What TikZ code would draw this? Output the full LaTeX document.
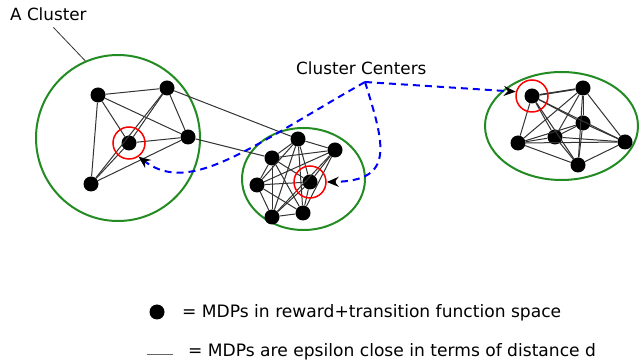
\documentclass[tikz,border=0pt]{standalone}
\usepackage{fontspec}
\setmainfont{DejaVu Sans}
\usetikzlibrary{arrows.meta, shapes.geometric}

\definecolor{clgreen}{RGB}{34,139,34}

\begin{document}
\begin{tikzpicture}[
    x=1pt, y=1pt,
    mdp/.style={circle, fill=black, inner sep=0pt, minimum size=15pt},
    link/.style={draw=black!80, line width=1pt},
    cluster/.style={ellipse, draw=clgreen, line width=2pt, inner sep=0pt},
    ring/.style={circle, draw=red, line width=1.5pt, inner sep=0pt, minimum size=32pt},
    lbl/.style={font=\fontsize{16.8}{20}\selectfont, inner sep=0pt},
    keylbl/.style={font=\fontsize{17.1}{20}\selectfont, inner sep=0pt},
    hop/.style={draw=blue, line width=2pt, dash pattern=on 7pt off 5pt, -{Stealth[length=12pt, width=10pt, inset=4pt, color=black]}},
]
\useasboundingbox (0,0) rectangle (639,361);

% Clusters
\node[cluster, minimum width=164pt, minimum height=166pt] (clL) at (118,223) {};
\node[cluster, minimum width=123pt, minimum height=102pt] (clM) at (303.5,182) {};
\node[cluster, minimum width=153pt, minimum height=108pt] (clR) at (561.5,235) {};

% Left cluster
\node[mdp] (a1) at (98,266) {};
\node[mdp] (a2) at (167,273) {};
\node[mdp] (a3) at (188,224) {};
\node[mdp] (a4) at (129,218) {};
\node[mdp] (a5) at (91,177) {};

% Middle cluster
\node[mdp] (b1) at (298,222) {};
\node[mdp] (b2) at (272,203) {};
\node[mdp] (b3) at (335,211) {};
\node[mdp] (b4) at (257,176) {};
\node[mdp] (b5) at (310,179) {};
\node[mdp] (b6) at (272,144) {};
\node[mdp] (b7) at (303,148) {};

% Right cluster
\node[mdp] (c1) at (532,265) {};
\node[mdp] (c2) at (583,273) {};
\node[mdp] (c3) at (583,238) {};
\node[mdp] (c4) at (518,218) {};
\node[mdp] (c5) at (555,224) {};
\node[mdp] (c6) at (625,219) {};
\node[mdp] (c7) at (578,196) {};

% Epsilon-close links
\foreach \i in {1,...,4} \foreach \j in {\i,...,5} {\ifnum\i<\j \draw[link] (a\i) -- (a\j);\fi}
\foreach \i in {1,...,6} \foreach \j in {\i,...,7} {\ifnum\i<\j \draw[link] (b\i) -- (b\j);\fi}
\foreach \i in {1,...,6} \foreach \j in {\i,...,7} {\ifnum\i<\j \draw[link] (c\i) -- (c\j);\fi}
\draw[link] (a2) -- (b1);
\draw[link] (a3) -- (b2);
\draw[link, line width=1.6pt] (c1) -- (c2);

% Centres
\node[ring] (ringL) at (a4) {};
\node[ring] (ringM) at (b5) {};
\node[ring] (ringR) at (c1) {};

% Labels
\node[lbl, anchor=base west] (acl) at (10,340) {A Cluster};
\draw[draw=black!80, line width=0.8pt] ([shift={(5pt,-6pt)}]acl.south) -- (clL.113);

\node[lbl, anchor=base west] (centres) at (296,286) {Cluster Centers};
\coordinate (fork) at (365,279);

\draw[hop] (fork) .. controls (250,214) and (190,165) .. (ringL.-55);
\draw[hop] (fork) .. controls (385,215) and (395,180) .. (ringM.east);
\draw[hop] (fork) -- (ringR.165);

% Key
\node[mdp] (keydot) at (157,49) {};
\node[keylbl, anchor=base west] (keydottext) at (182,43) {= MDPs in reward+transition function space};
\coordinate (keyA) at (147,7);
\coordinate (keyB) at (173,7);
\draw[draw=black!60, line width=1pt] (keyA) -- (keyB);
\node[keylbl, anchor=base west] (keylinetext) at (188,4.5) {= MDPs are epsilon close in terms of distance d};

\end{tikzpicture}
\end{document}
